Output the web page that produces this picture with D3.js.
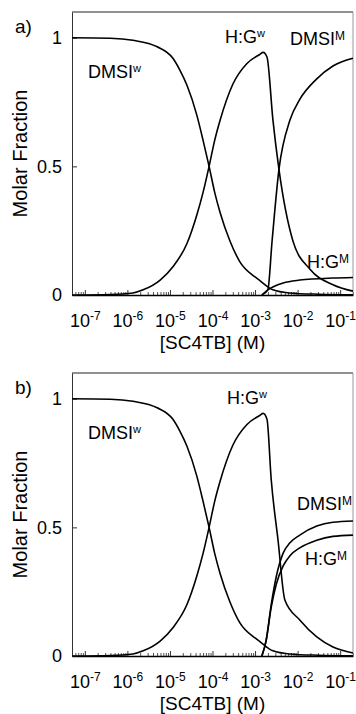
<!DOCTYPE html>
<html>
<head>
<meta charset="utf-8">
<script src="https://cdn.jsdelivr.net/npm/d3@7"></script>
<style>
  body { margin: 0; background: #fff; }
  svg text { font-family: "Liberation Sans", Arial, sans-serif; fill: #000; }
</style>
</head>
<body>
<svg id="chart" width="356" height="714"></svg>
<script>
// values: [log10 of [SC4TB] in M, molar fraction]
const dmsiW = [[-7.30, 1.000], [-6.40, 0.998], [-5.87, 0.99], [-5.30, 0.965], [-4.93, 0.92],
  [-4.77, 0.875], [-4.60, 0.815], [-4.37, 0.70], [-4.22, 0.60], [-4.08, 0.50], [-3.95, 0.40],
  [-3.82, 0.32], [-3.59, 0.21], [-3.36, 0.13], [-3.00, 0.07], [-2.88, 0.055], [-2.58, 0.02],
  [-2.20, 0.008], [-1.50, 0.003], [-0.70, 0.001]];

const hgW_a = [[-7.30, 0.000], [-6.40, 0.002], [-5.87, 0.008], [-5.63, 0.02], [-5.23, 0.058],
  [-4.93, 0.11], [-4.60, 0.20], [-4.37, 0.31], [-4.22, 0.40], [-4.08, 0.50], [-3.95, 0.60],
  [-3.82, 0.68], [-3.52, 0.82], [-3.19, 0.90], [-2.89, 0.935], [-2.81, 0.943], [-2.72, 0.925],
  [-2.58, 0.68], [-2.44, 0.49], [-2.11, 0.21], [-1.71, 0.10], [-1.17, 0.04], [-0.70, 0.015]];

const dmsiM_a = [[-2.84, 0.0], [-2.70, 0.02], [-2.60, 0.21], [-2.44, 0.486], [-2.18, 0.68],
  [-1.95, 0.76], [-1.55, 0.84], [-1.17, 0.89], [-0.70, 0.92]];

const hgM_a = [[-2.84, 0.0], [-2.70, 0.02], [-2.34, 0.047], [-1.95, 0.058], [-1.17, 0.066],
  [-0.70, 0.068]];

const hgW_b = [[-7.30, 0.000], [-6.40, 0.002], [-5.87, 0.008], [-5.63, 0.02], [-5.23, 0.058],
  [-4.93, 0.11], [-4.60, 0.20], [-4.37, 0.31], [-4.22, 0.40], [-4.08, 0.50], [-3.95, 0.60],
  [-3.82, 0.68], [-3.52, 0.82], [-3.19, 0.90], [-2.89, 0.935], [-2.81, 0.943], [-2.72, 0.92],
  [-2.62, 0.685], [-2.46, 0.45], [-2.30, 0.218], [-1.95, 0.14], [-1.55, 0.074], [-1.17, 0.035],
  [-0.70, 0.012]];

const dmsiM_b = [[-2.84, 0.0], [-2.74, 0.06], [-2.62, 0.20], [-2.50, 0.31], [-2.34, 0.40],
  [-2.18, 0.44], [-1.95, 0.47], [-1.55, 0.505], [-1.17, 0.52], [-0.70, 0.525]];

const hgM_b = [[-2.84, 0.0], [-2.74, 0.06], [-2.62, 0.19], [-2.50, 0.28], [-2.34, 0.35],
  [-2.18, 0.39], [-1.95, 0.42], [-1.55, 0.45], [-1.17, 0.465], [-0.70, 0.47]];

const xTickExp = [-7, -6, -5, -4, -3, -2, -1];
const yTicks = [0, 0.5, 1];

const margin = {left: 72, top: 12};
const width = 281, height = 283;
const panelGap = 361;

const svg = d3.select("#chart");

const x = d3.scaleLog().domain([5e-8, 0.2]).range([0, width]);
const y = d3.scaleLinear().domain([0, 1.1]).range([height, 0]);

const line = d3.line()
  .x(d => x(Math.pow(10, d[0])))
  .y(d => y(d[1]))
  .curve(d3.curveMonotoneX);

// label with a superscript part
function supLabel(g, px, py, main, sup, supSize, rise) {
  const t = g.append("text").attr("x", px).attr("y", py).attr("font-size", 18);
  t.append("tspan").text(main);
  t.append("tspan").attr("font-size", supSize).attr("dy", -rise).text(sup);
  return t;
}

function drawPanel(offset, tag, curves, labels) {
  const g = svg.append("g")
    .attr("transform", "translate(" + margin.left + "," + (margin.top + offset) + ")");

  // minor ticks
  const minors = [];
  for (let e = -8; e <= -1; e++) {
    for (let m = 2; m <= 9; m++) {
      const v = m * Math.pow(10, e);
      if (v >= 5e-8 && v <= 0.2) minors.push(v);
    }
  }
  g.append("g")
    .attr("transform", "translate(0," + height + ")")
    .call(d3.axisBottom(x).tickValues(minors).tickSizeInner(-3).tickSizeOuter(0).tickFormat(""))
    .call(a => a.select(".domain").remove())
    .selectAll("line").attr("stroke", "#555");

  // x axis
  const xa = g.append("g")
    .attr("transform", "translate(0," + height + ")")
    .call(d3.axisBottom(x)
      .tickValues(xTickExp.map(e => Math.pow(10, e)))
      .tickSizeInner(-5).tickSizeOuter(0).tickPadding(19));
  xa.select(".domain").attr("stroke", "#000").attr("stroke-width", 1.6);
  xa.selectAll(".tick line").attr("stroke", "#333");
  xa.selectAll(".tick text")
    .attr("font-size", 18)
    .text(null)
    .each(function(d, i) {
      const t = d3.select(this);
      t.append("tspan").text("10");
      t.append("tspan").attr("font-size", 12).attr("dy", "-0.6em").text(String(xTickExp[i]));
    });

  // y axis
  const ya = g.append("g")
    .call(d3.axisLeft(y).tickValues(yTicks).tickSizeInner(-5).tickSizeOuter(0).tickPadding(10)
      .tickFormat(d => d === 0.5 ? "0.5" : String(d)));
  ya.select(".domain").attr("stroke", "#333");
  ya.selectAll(".tick line").attr("stroke", "#333");
  ya.selectAll(".tick text").attr("font-size", 18);

  // rest of frame
  g.append("line").attr("x1", 0).attr("x2", width).attr("y1", 0).attr("y2", 0)
    .attr("stroke", "#222");
  g.append("line").attr("x1", width).attr("x2", width).attr("y1", 0).attr("y2", height)
    .attr("stroke", "#999");

  // curves
  g.selectAll("path.curve")
    .data(curves)
    .join("path")
    .attr("class", "curve")
    .attr("d", line)
    .attr("fill", "none")
    .attr("stroke", "#000")
    .attr("stroke-width", 1.6);

  // curve labels
  labels.forEach(l => supLabel(g, l.x - margin.left, l.y - margin.top, l.main, l.sup, l.supSize, l.rise));

  // axis titles
  g.append("text")
    .attr("x", width / 2).attr("y", 337)
    .attr("text-anchor", "middle").attr("font-size", 19)
    .text("[SC4TB] (M)");
  g.append("text")
    .attr("transform", "translate(" + (27 - margin.left) + "," + (height / 2) + ") rotate(-90)")
    .attr("text-anchor", "middle").attr("font-size", 20)
    .text("Molar Fraction");

  // panel tag
  g.append("text")
    .attr("x", 15 - margin.left).attr("y", 21)
    .attr("font-size", 19)
    .text(tag);
}

drawPanel(0, "a)", [dmsiW, hgW_a, dmsiM_a, hgM_a], [
  {x: 88, y: 78, main: "DMSI", sup: "w", supSize: 11, rise: 6},
  {x: 225, y: 43, main: "H:G", sup: "w", supSize: 11, rise: 6},
  {x: 290, y: 45, main: "DMSI", sup: "M", supSize: 12, rise: 5},
  {x: 307, y: 268, main: "H:G", sup: "M", supSize: 12, rise: 5}
]);

drawPanel(panelGap, "b)", [dmsiW, hgW_b, dmsiM_b, hgM_b], [
  {x: 88, y: 78, main: "DMSI", sup: "w", supSize: 11, rise: 6},
  {x: 227, y: 43, main: "H:G", sup: "w", supSize: 11, rise: 6},
  {x: 297, y: 149, main: "DMSI", sup: "M", supSize: 12, rise: 5},
  {x: 305, y: 204, main: "H:G", sup: "M", supSize: 12, rise: 5}
]);
</script>
</body>
</html>
